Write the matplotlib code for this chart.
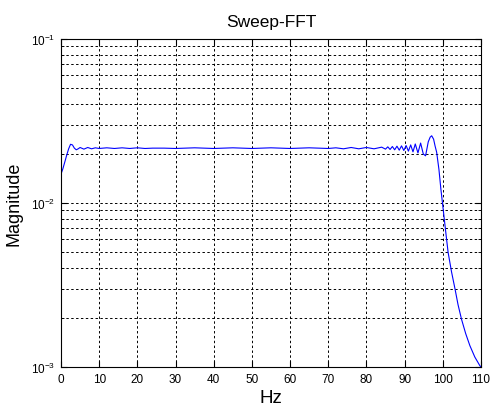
import math
import matplotlib
matplotlib.use('Agg')
import matplotlib.pyplot as plt
from matplotlib import ticker

plt.rcParams['font.family'] = ['Liberation Sans', 'DejaVu Sans']
plt.rcParams['mathtext.fontset'] = 'custom'
plt.rcParams['mathtext.rm'] = 'Liberation Sans'
plt.rcParams['mathtext.it'] = 'Liberation Sans'

# values
hz = [0, 0.5, 1, 1.5, 2, 2.5, 3, 3.5, 4, 4.5, 5, 6, 7, 8, 9, 10, 12, 14, 16, 18,
      20, 22, 24, 27, 30, 35, 40, 45, 50, 55, 60, 65, 70, 72, 74, 76, 78, 80, 82, 84,
      85, 85.6, 86.2, 86.8, 87.4, 88.0, 88.6, 89.2, 89.8, 90.4, 91.0, 91.6, 92.2,
      92.8, 93.5, 94.2, 94.9, 95.5, 96.2, 96.7, 97.1, 97.6, 98.0, 98.4, 99.0, 99.5,
      100.1, 100.8, 101.4, 102.3, 103.2, 104.0, 104.9, 106.0, 107.1, 108.4, 109.7, 110]
mag = [0.0150, 0.0162, 0.0178, 0.0196, 0.0214, 0.0228, 0.0226, 0.0216, 0.0211, 0.0214,
       0.0218, 0.0213, 0.0218, 0.0214, 0.0217, 0.0215, 0.0217, 0.0215, 0.0217, 0.0215,
       0.0217, 0.0215, 0.0216, 0.0216, 0.0215, 0.0217, 0.0215, 0.0217, 0.0215, 0.0217,
       0.0215, 0.0217, 0.0215, 0.0217, 0.0214, 0.0218, 0.0214, 0.0218, 0.0214, 0.0219,
       0.0213, 0.0220, 0.0212, 0.0221, 0.0211, 0.0222, 0.0210, 0.0223, 0.0209, 0.0224,
       0.0207, 0.0226, 0.0205, 0.0229, 0.0202, 0.0232, 0.0199, 0.0194, 0.0236, 0.0252,
       0.0257, 0.0245, 0.0222, 0.0204, 0.0160, 0.0122,
       0.0092, 0.0066, 0.0050, 0.0038, 0.0030, 0.0024, 0.00196, 0.00160, 0.00135, 0.00115,
       0.00102, 0.00100]

xticks = [0, 10, 20, 30, 40, 50, 60, 70, 80, 90, 100, 110]

fig = plt.figure(figsize=(4.9, 4.06), dpi=100)
ax = fig.add_axes([0.1245, 0.0936, 0.857, 0.8079])
ax.plot(hz, mag, color=(0, 0, 1), linewidth=0.8)
ax.set_yscale('log')
ax.set_xlim(0, 110)
ax.set_ylim(1e-3, 1e-1)
ax.set_xticks(xticks)
ax.yaxis.set_major_locator(ticker.LogLocator(base=10))
ax.yaxis.set_minor_locator(ticker.LogLocator(base=10, subs=range(2, 10)))
ax.yaxis.set_minor_formatter(ticker.NullFormatter())
ax.yaxis.set_major_formatter(ticker.FuncFormatter(lambda v, p: r'$10^{%d}$' % round(math.log10(v))))
ax.tick_params(which='both', direction='in', top=True, right=True, labelsize=8.5)
ax.tick_params(which='major', length=4, pad=4)
ax.tick_params(which='minor', length=2)
ax.grid(True, which='major', axis='x', color='black', linestyle=(0, (2.5, 2.5)), linewidth=0.7)
ax.grid(True, which='both', axis='y', color='black', linestyle=(0, (2.5, 2.5)), linewidth=0.7)
for s in ax.spines.values():
    s.set_linewidth(0.8)

ax.set_title('Sweep-FFT', fontsize=12.5, pad=9)
ax.set_xlabel('Hz', fontsize=13.5, labelpad=3)
ax.set_ylabel('Magnitude', fontsize=13, labelpad=6)

fig.savefig('out.png', dpi=100)
